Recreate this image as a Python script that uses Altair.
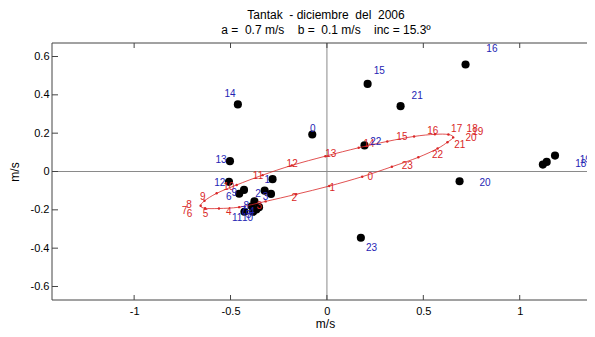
import altair as alt
import pandas as pd

# ---------------- data ----------------
hours = list(range(24))

# observed hourly mean currents (black dots, blue hour labels)
obs_u = [-0.076, -0.282, -0.323, -0.290, -0.352, -0.366, -0.455, -0.390,
         -0.376, -0.430, -0.383, -0.428, -0.508, -0.503, -0.462, 0.211,
         0.719, 1.183, 1.120, 1.140, 0.688, 0.382, 0.195, 0.176]
obs_v = [0.193, -0.040, -0.100, -0.117, -0.186, -0.198, -0.116, -0.181,
         -0.155, -0.096, -0.210, -0.210, -0.054, 0.054, 0.350, 0.457,
         0.558, 0.083, 0.036, 0.050, -0.051, 0.341, 0.136, -0.346]

# tidal ellipse hourly positions (red line, red hour labels)
ell_u = [0.183, 0.012, -0.160, -0.318, -0.455, -0.560, -0.632, -0.655,
         -0.635, -0.572, -0.468, -0.334, -0.182, -0.008, 0.165, 0.313,
         0.452, 0.560, 0.630, 0.655, 0.625, 0.574, 0.474, 0.337]
ell_v = [-0.027, -0.076, -0.119, -0.156, -0.186, -0.193, -0.192, -0.179,
         -0.153, -0.114, -0.070, -0.019, 0.032, 0.080, 0.124, 0.157,
         0.183, 0.194, 0.193, 0.178, 0.153, 0.120, 0.074, 0.025]

x_ticks = [-1, -0.5, 0, 0.5, 1]
y_ticks = [-0.6, -0.4, -0.2, 0, 0.2, 0.4, 0.6]

NB = "\u00a0"
title_text = f"Tantak {NB}- diciembre {NB}del {NB}2006"
subtitle_text = f"a = {NB}0.7 m/s {NB}{NB}{NB}b = {NB}0.1 m/s {NB}{NB}{NB}inc = 15.3º"
axis_title = "m/s"

# ---------------- style ----------------
W, H = 546, 257
XDOM = [-1.426, 1.406]
YDOM = [-0.6705, 0.6705]
LABEL_SCALE = 1.15
FONT = "Liberation Sans"
BLUE = "#2424b4"
RED = "#d92626"
BOX = "#444444"
ZERO = "#8a8a8a"

obs = pd.DataFrame({"hour": hours, "u": obs_u, "v": obs_v})
ell = pd.DataFrame({"hour": hours, "u": ell_u, "v": ell_v})
one = pd.DataFrame({"k": [0]})
xt = pd.DataFrame({"t": x_ticks})
yt = pd.DataFrame({"t": y_ticks})

xs = alt.Scale(domain=XDOM, nice=False, zero=False)
ys = alt.Scale(domain=YDOM, nice=False, zero=False)

x_axis = alt.Axis(values=x_ticks, title=axis_title, labelPadding=5,
                  titlePadding=2, labelExpr="'' + datum.value")
y_axis = alt.Axis(values=y_ticks, title=axis_title, labelPadding=3,
                  titlePadding=9, labelExpr="'' + datum.value")

zero_v = alt.Chart(one).mark_rule(color=ZERO, strokeWidth=1).encode(
    x=alt.XDatum(0, type="quantitative", scale=xs))
zero_h = alt.Chart(one).mark_rule(color=ZERO, strokeWidth=1).encode(
    y=alt.YDatum(0, type="quantitative", scale=ys))

border_top = alt.Chart(one).mark_rule(color=BOX, strokeWidth=1).encode(
    x=alt.value(0), x2=alt.value(W), y=alt.value(0))
border_bottom = alt.Chart(one).mark_rule(color=BOX, strokeWidth=1).encode(
    x=alt.value(0), x2=alt.value(W), y=alt.value(H))
border_left = alt.Chart(one).mark_rule(color=BOX, strokeWidth=1).encode(
    x=alt.value(0), y=alt.value(0), y2=alt.value(H))

top_ticks = alt.Chart(xt).mark_rule(color=BOX, strokeWidth=1).encode(
    x=alt.X("t:Q", scale=xs), y=alt.value(0), y2=alt.value(5))
bottom_ticks = alt.Chart(xt).mark_rule(color=BOX, strokeWidth=1).encode(
    x=alt.X("t:Q", scale=xs), y=alt.value(H - 5), y2=alt.value(H))
left_ticks = alt.Chart(yt).mark_rule(color=BOX, strokeWidth=1).encode(
    y=alt.Y("t:Q", scale=ys), x=alt.value(0), x2=alt.value(6))
right_ticks = alt.Chart(yt).mark_rule(color=BOX, strokeWidth=1).encode(
    y=alt.Y("t:Q", scale=ys), x=alt.value(W - 6), x2=alt.value(W))

ell_line = alt.Chart(ell).mark_line(
    color=RED, strokeWidth=0.8, interpolate="cardinal-closed").encode(
    x=alt.X("u:Q", scale=xs),
    y=alt.Y("v:Q", scale=ys),
    order="hour:Q")
ell_pts = alt.Chart(ell).mark_circle(color=RED, size=6, opacity=1).encode(
    x=alt.X("u:Q", scale=xs),
    y=alt.Y("v:Q", scale=ys))
ell_lbl = alt.Chart(ell).transform_calculate(
    lx=f"datum.u * {LABEL_SCALE}", ly=f"datum.v * {LABEL_SCALE}"
).mark_text(color=RED, fontSize=10, font=FONT, align="left",
            baseline="middle").encode(
    x=alt.X("lx:Q", scale=xs),
    y=alt.Y("ly:Q", scale=ys),
    text="hour:N")

dots = alt.Chart(obs).mark_circle(color="black", size=66, opacity=1).encode(
    x=alt.X("u:Q", scale=xs, axis=x_axis),
    y=alt.Y("v:Q", scale=ys, axis=y_axis))
obs_lbl = alt.Chart(obs).transform_calculate(
    lx=f"datum.u * {LABEL_SCALE}", ly=f"datum.v * {LABEL_SCALE}"
).mark_text(color=BLUE, fontSize=10, font=FONT, align="left",
            baseline="middle").encode(
    x=alt.X("lx:Q", scale=xs),
    y=alt.Y("ly:Q", scale=ys),
    text="hour:N")

chart = alt.layer(
    dots, zero_v, zero_h, border_top, border_bottom, border_left,
    top_ticks, bottom_ticks, left_ticks, right_ticks,
    ell_line, ell_pts, ell_lbl, obs_lbl
).properties(
    width=W, height=H,
    autosize="none",
    padding={"left": 44, "top": 35, "right": -11, "bottom": 29},
    title=alt.TitleParams(
        text=title_text, subtitle=subtitle_text, anchor="middle",
        font=FONT, subtitleFont=FONT, fontSize=12, subtitleFontSize=12,
        fontWeight="normal", color="black", subtitleColor="black",
        offset=6, subtitlePadding=3, dx=1)
).configure_view(stroke=None).configure_axis(
    ticks=False, domain=False, grid=False,
    labelFontSize=11, labelFont=FONT, labelColor="black",
    titleFont=FONT, titleFontSize=12, titleFontWeight="normal",
    titleColor="black"
)

chart.save("out.html", embed_options={"renderer": "svg", "actions": False})
